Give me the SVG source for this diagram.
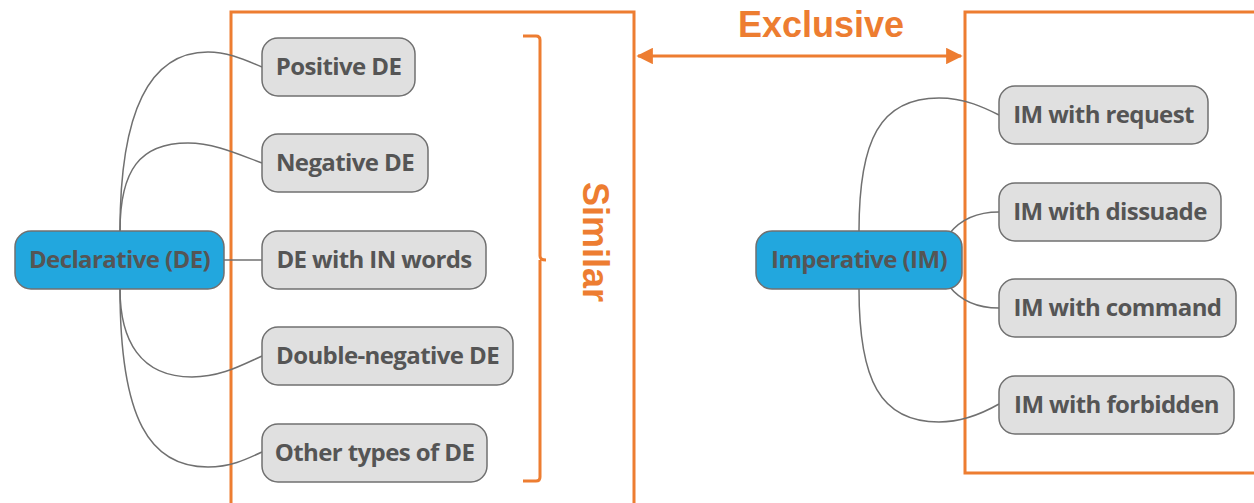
<svg xmlns="http://www.w3.org/2000/svg" width="1254" height="503" viewBox="0 0 1254 503">
<style>
.frame{fill:none;stroke:#ed7d31;stroke-width:3}
.node rect{fill:#e0e0e0;stroke:#707070;stroke-width:1.5}
.root rect{fill:#22a7de;stroke:#707070;stroke-width:1.5}
.node text,.root text{font-family:"Open Sans","Noto Sans",sans-serif;font-weight:bold;font-size:24px;letter-spacing:-0.6px;fill:#555555}
.conn path{fill:none;stroke:#707070;stroke-width:1.5}
.lbl{font-family:"Liberation Sans",Arial,sans-serif;font-weight:bold;font-size:36px;fill:#ed7d31}
</style>
<defs>
<marker id="ah" viewBox="0 0 10 10" refX="9" refY="5" markerWidth="5.5" markerHeight="5.5" orient="auto-start-reverse" markerUnits="strokeWidth">
<path d="M0,0 L10,5 L0,10 z" fill="#ed7d31"/>
</marker>
</defs>
<g id="frames">
<path class="frame" d="M231,510 V12 H634 V510"/>
<path class="frame" d="M1260,473 H965 V12 H1260"/>
<path class="frame" d="M523,36 H536 Q540,36 540,40 V256 Q540,260 546,260 M540,260 Q540,264 540,268 V477 Q540,481 536,481 H523"/>
</g>
<g id="labels">
<text class="lbl" x="821" y="37" text-anchor="middle">Exclusive</text>
<text class="lbl" transform="translate(583,242) rotate(90)" text-anchor="middle">Similar</text>
</g>
<g id="exclusive-arrow">
<line x1="638" y1="56" x2="961" y2="56" stroke="#ed7d31" stroke-width="3" marker-start="url(#ah)" marker-end="url(#ah)"/>
</g>
<g id="connectors" class="conn">
<path d="M120,231 C120,110 150,52 208,52 C228,52 245,60 262,67"/>
<path d="M120,231 C120,170 140,143 188,143 C215,143 240,155 262,163"/>
<path d="M224,260 H262"/>
<path d="M120,289 C120,340 140,377 192,377 C220,377 240,366 262,356"/>
<path d="M120,289 C120,420 150,467 208,467 C230,467 245,460 262,452"/>
<path d="M859,231 C859,140 880,98 939,98 C965,98 985,108 999,115"/>
<path d="M949,234 C960,220 975,212 999,212"/>
<path d="M949,286 C960,300 975,308 999,308"/>
<path d="M859,289 C859,380 880,422 939,422 C965,422 985,412 999,404"/>
</g>
<g id="declarative" class="root"><rect x="15" y="231" width="209" height="58" rx="16"/><text x="119.5" y="267.5" text-anchor="middle">Declarative (DE)</text></g>
<g id="positive-de" class="node"><rect x="262" y="38" width="153" height="58" rx="16"/><text x="338.5" y="74.5" text-anchor="middle">Positive DE</text></g>
<g id="negative-de" class="node"><rect x="262" y="134" width="166" height="58" rx="16"/><text x="345" y="170.5" text-anchor="middle">Negative DE</text></g>
<g id="de-in-words" class="node"><rect x="262" y="231" width="224" height="58" rx="16"/><text x="374" y="267.5" text-anchor="middle">DE with IN words</text></g>
<g id="double-negative-de" class="node"><rect x="262" y="327" width="251" height="58" rx="16"/><text x="387.5" y="363.5" text-anchor="middle">Double-negative DE</text></g>
<g id="other-de" class="node"><rect x="262" y="424" width="225" height="58" rx="16"/><text x="374.5" y="460.5" text-anchor="middle">Other types of DE</text></g>
<g id="imperative" class="root"><rect x="756" y="231" width="206" height="58" rx="16"/><text x="859" y="267.5" text-anchor="middle">Imperative (IM)</text></g>
<g id="im-request" class="node"><rect x="999" y="86" width="209" height="58" rx="16"/><text x="1103.5" y="122.5" text-anchor="middle">IM with request</text></g>
<g id="im-dissuade" class="node"><rect x="999" y="183" width="222" height="58" rx="16"/><text x="1110" y="219.5" text-anchor="middle">IM with dissuade</text></g>
<g id="im-command" class="node"><rect x="999" y="279" width="237" height="58" rx="16"/><text x="1117.5" y="315.5" text-anchor="middle">IM with command</text></g>
<g id="im-forbidden" class="node"><rect x="999" y="376" width="235" height="58" rx="16"/><text x="1116.5" y="412.5" text-anchor="middle">IM with forbidden</text></g>
</svg>
